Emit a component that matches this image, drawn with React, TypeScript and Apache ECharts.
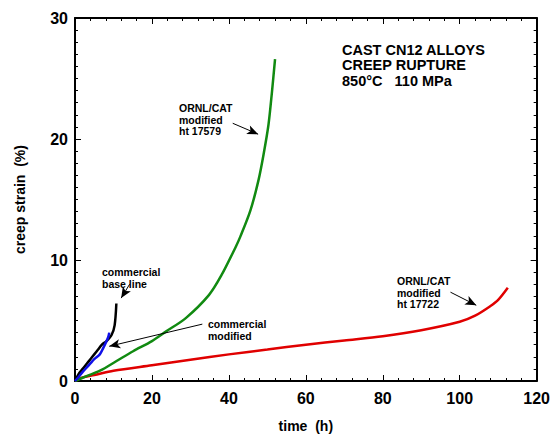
import React, { useEffect, useRef } from "react";
import * as echarts from "echarts";

const baseLineX = [0, 1, 2, 3, 4, 5, 6, 7, 8.2, 9.5, 10.3, 10.75];
const baseLineY = [0, 0.6, 1.0, 1.4, 1.8, 2.2, 2.6, 3.0, 3.3, 3.8, 4.6, 6.4];

const modifiedX = [0, 1, 2, 3, 4, 5, 6.45, 7.3, 8.6, 8.9];
const modifiedY = [0, 0.35, 0.75, 1.1, 1.45, 1.8, 2.2, 2.7, 3.6, 4.0];

const ht17579X = [0, 3, 6.5, 10.8, 15.1, 20, 23.7, 28.8, 34.8, 38, 41.8, 43, 45.6, 47.7, 49, 50.3, 51.2, 52];
const ht17579Y = [0, 0.4, 0.85, 1.65, 2.46, 3.3, 4.1, 5.2, 7.1, 8.7, 11.1, 11.95, 14.1, 16.6, 18.7, 21.2, 23.9, 26.6];

const ht17722X = [0, 2, 5, 10, 20, 30, 40, 50, 60, 70, 80, 90, 100, 104, 108, 110, 112.5];
const ht17722Y = [0, 0.3, 0.5, 0.85, 1.3, 1.75, 2.2, 2.6, 3.0, 3.35, 3.7, 4.2, 4.9, 5.4, 6.2, 6.7, 7.7];

// arrows: [fromX, fromY, toX, toY]
const arrows = [
  [14.2, 8.0, 12.0, 6.85],
  [33.1, 4.7, 8.9, 2.87],
  [41.0, 21.3, 47.6, 20.4],
  [97.6, 7.34, 104.3, 6.26],
];

const titleLines = ["CAST CN12 ALLOYS", "CREEP RUPTURE", "850°C   110 MPa"];

const zip = (xs: number[], ys: number[]) => xs.map((x, i) => [x, ys[i]]);

const FONT = "'Liberation Sans', Arial, Helvetica, sans-serif";

export default function App() {
  const ref = useRef<HTMLDivElement>(null);
  useEffect(() => {
    if (!ref.current) return;
    const chart = echarts.init(ref.current, null, { renderer: "svg" });
    const axisCommon = {
      axisLine: { show: true, onZero: false, lineStyle: { color: "#000", width: 2 } },
      axisTick: { show: true, inside: true, length: 6, lineStyle: { color: "#000", width: 1 } },
      minorTick: { show: true, length: 3, lineStyle: { color: "#000", width: 1 } },
      splitLine: { show: false },
    };
    const lineSeries = (name: string, data: number[][], color: string) => ({
      name,
      type: "line",
      data,
      showSymbol: false,
      symbol: "none",
      smooth: 0.3,
      lineStyle: { color, width: 2.5 },
      z: 3,
    });
    const smallText = (text: string, left: number, top: number) => ({
      type: "text",
      left,
      top,
      style: { text, font: `bold 10.5px ${FONT}`, lineHeight: 11.7, fill: "#000" },
    });
    chart.setOption({
      animation: false,
      grid: { left: 75, right: 13, top: 18, bottom: 51, containLabel: false },
      xAxis: [
        {
          type: "value",
          min: 0,
          max: 120,
          interval: 20,
          position: "bottom",
          ...axisCommon,
          minorTick: { ...axisCommon.minorTick, splitNumber: 5 },
          axisLabel: { color: "#000", fontSize: 16, fontWeight: "bold", fontFamily: FONT, margin: 9 },
          name: "time  (h)",
          nameLocation: "middle",
          nameGap: 38,
          nameTextStyle: { color: "#000", fontSize: 14, fontWeight: "bold", fontFamily: FONT },
        },
        {
          type: "value",
          min: 0,
          max: 120,
          interval: 20,
          position: "top",
          ...axisCommon,
          minorTick: { ...axisCommon.minorTick, splitNumber: 5 },
          axisLabel: { show: false },
        },
      ],
      yAxis: [
        {
          type: "value",
          min: 0,
          max: 30,
          interval: 10,
          position: "left",
          ...axisCommon,
          minorTick: { ...axisCommon.minorTick, splitNumber: 10 },
          axisLabel: { color: "#000", fontSize: 16, fontWeight: "bold", fontFamily: FONT, margin: 7 },
          name: "creep strain  (%)",
          nameLocation: "middle",
          nameGap: 48,
          nameTextStyle: { color: "#000", fontSize: 14, fontWeight: "bold", fontFamily: FONT },
        },
        {
          type: "value",
          min: 0,
          max: 30,
          interval: 10,
          position: "right",
          ...axisCommon,
          minorTick: { ...axisCommon.minorTick, splitNumber: 10 },
          axisLabel: { show: false },
        },
      ],
      series: [
        lineSeries("ORNL/CAT modified ht 17722", zip(ht17722X, ht17722Y), "#e00000"),
        lineSeries("ORNL/CAT modified ht 17579", zip(ht17579X, ht17579Y), "#118a11"),
        lineSeries("commercial base line", zip(baseLineX, baseLineY), "#000000"),
        lineSeries("commercial modified", zip(modifiedX, modifiedY), "#1010e8"),
        {
          name: "arrows",
          type: "line",
          data: [],
          markLine: {
            silent: true,
            symbol: ["none", "arrow"],
            symbolSize: [7, 11],
            label: { show: false },
            lineStyle: { color: "#000", width: 1, type: "solid" },
            data: arrows.map((a) => [{ coord: [a[0], a[1]] }, { coord: [a[2], a[3]] }]),
          },
        },
      ],
      graphic: [
        ...titleLines.map((t, i) => ({
          type: "text",
          left: 342,
          top: 42 + i * 15.6,
          style: { text: t, font: `bold 14.5px ${FONT}`, fill: "#000" },
        })),
        smallText("ORNL/CAT\nmodified\nht 17579", 179, 102),
        smallText("ORNL/CAT\nmodified\nht 17722", 397, 275),
        smallText("commercial\nbase line", 102, 266),
        smallText("commercial\nmodified", 208, 318.5),
      ],
    });
    return () => chart.dispose();
  }, []);
  return <div ref={ref} style={{ width: 553, height: 438, position: "absolute", left: 0, top: 0 }} />;
}
